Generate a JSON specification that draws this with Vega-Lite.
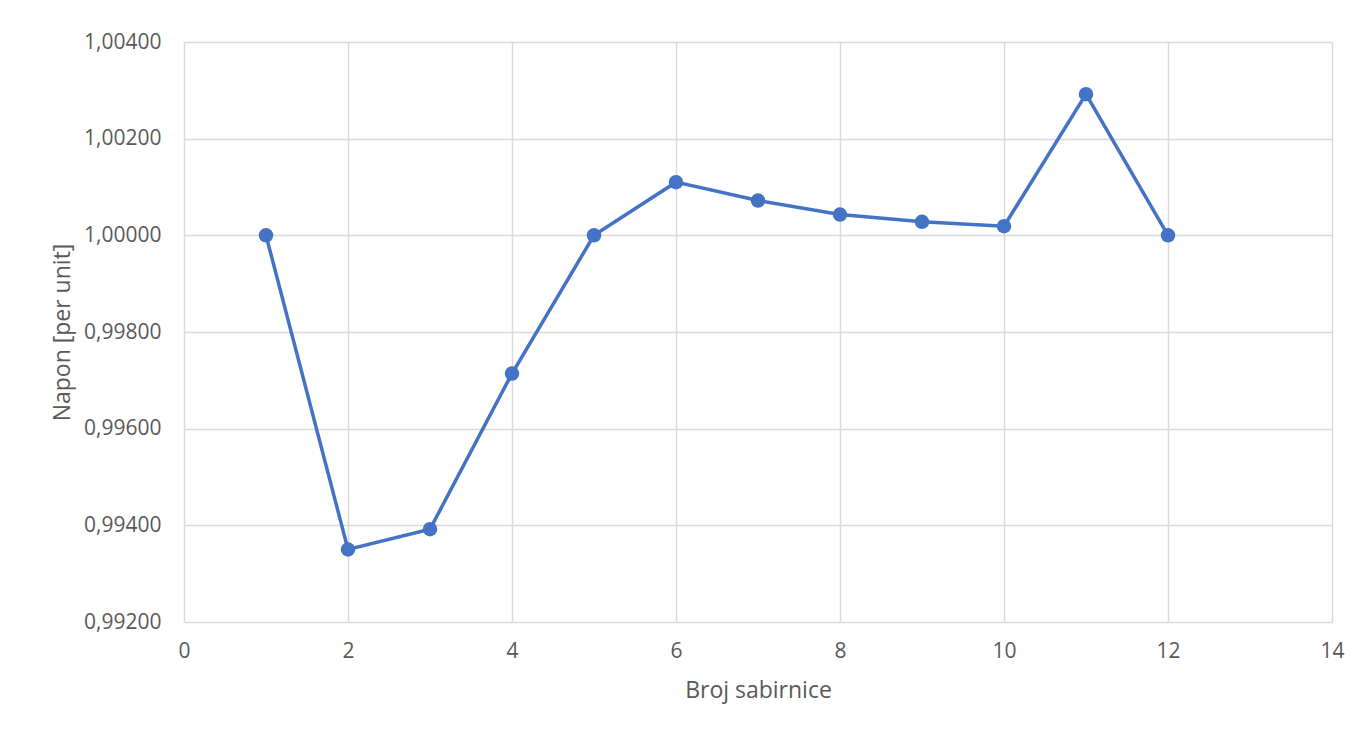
{
  "$schema": "https://vega.github.io/schema/vega-lite/v6.json",
  "width": 1148,
  "height": 580,
  "autosize": "none",
  "padding": {"left": 184, "top": 42, "right": 32, "bottom": 111},
  "background": "white",
  "data": {
    "values": [
      {"bus": 1, "napon": 1.00000},
      {"bus": 2, "napon": 0.99350},
      {"bus": 3, "napon": 0.99392},
      {"bus": 4, "napon": 0.99714},
      {"bus": 5, "napon": 1.00000},
      {"bus": 6, "napon": 1.00110},
      {"bus": 7, "napon": 1.00072},
      {"bus": 8, "napon": 1.00043},
      {"bus": 9, "napon": 1.00028},
      {"bus": 10, "napon": 1.00019},
      {"bus": 11, "napon": 1.00292},
      {"bus": 12, "napon": 1.00000}
    ]
  },
  "config": {
    "view": {"stroke": null},
    "font": "Open Sans",
    "axis": {
      "domain": false,
      "ticks": false,
      "grid": true,
      "gridColor": "#d9d9d9",
      "gridWidth": 1.5,
      "labelFont": "Open Sans",
      "labelFontSize": 21,
      "labelColor": "#595959",
      "titleFont": "Open Sans",
      "titleFontSize": 23,
      "titleFontWeight": "normal",
      "titleColor": "#595959"
    }
  },
  "mark": {"type": "line", "color": "#4472C4", "strokeWidth": 3.5, "point": {"filled": true, "size": 210, "color": "#4472C4", "opacity": 1}},
  "encoding": {
    "x": {
      "field": "bus",
      "type": "quantitative",
      "scale": {"domain": [0, 14], "nice": false, "zero": false},
      "axis": {"title": "Broj sabirnice", "values": [0, 2, 4, 6, 8, 10, 12, 14], "labelPadding": 18, "titlePadding": 18, "labelFlush": false}
    },
    "y": {
      "field": "napon",
      "type": "quantitative",
      "scale": {"domain": [0.992, 1.004], "nice": false, "zero": false},
      "axis": {
        "title": "Napon [per unit]",
        "values": [0.992, 0.994, 0.996, 0.998, 1.0, 1.002, 1.004],
        "labelExpr": "replace(format(datum.value, '.5f'), '.', ',')",
        "labelPadding": 23,
        "titlePadding": 9,
        "labelFlush": false
      }
    }
  }
}
